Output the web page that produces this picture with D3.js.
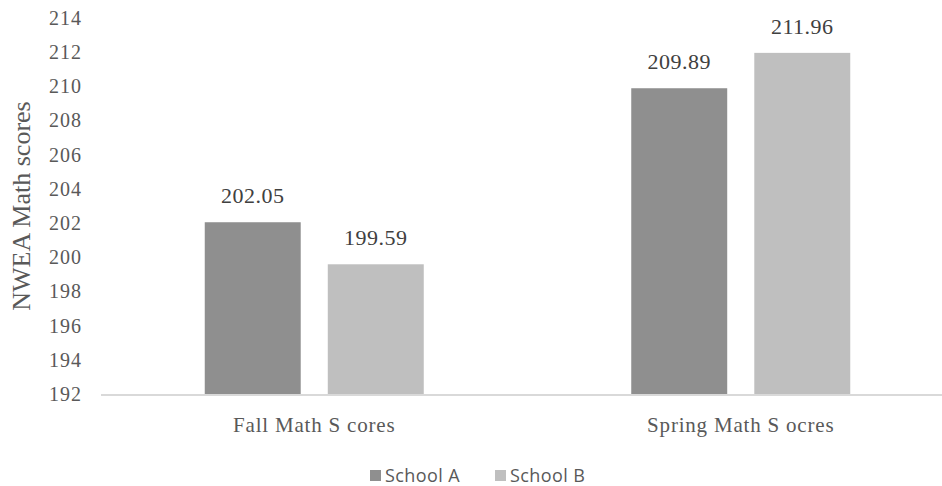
<!DOCTYPE html>
<html>
<head>
<meta charset="utf-8">
<script src="https://cdn.jsdelivr.net/npm/d3@7"></script>
<style>
  body { margin: 0; background: #fff; }
  svg { display: block; }
  .serif { font-family: 'Liberation Serif', 'Tinos', 'Times New Roman', 'DejaVu Serif', serif; }
</style>
</head>
<body>
<svg id="chart"></svg>
<script>
const categories = ['Fall Math S cores', 'Spring Math S ocres'];
const series = ['School A', 'School B'];
const schoolA = [202.05, 209.89];
const schoolB = [199.59, 211.96];
const yTicks = [192, 194, 196, 198, 200, 202, 204, 206, 208, 210, 212, 214];

const width = 942, height = 486;
const colors = { 'School A': '#8f8f8f', 'School B': '#bfbfbf' };

const svg = d3.select('#chart').attr('width', width).attr('height', height);

const x0 = d3.scaleBand()
  .domain(categories)
  .range([101, 954]);

const x1 = d3.scaleBand()
  .domain(series)
  .range([-109.5, 109.5])
  .paddingInner(0.22);

const y = d3.scaleLinear()
  .domain([192, 214])
  .range([394, 18]);

const rows = categories.map((c, i) => ({ cat: c, values: [
  { key: 'School A', value: schoolA[i] },
  { key: 'School B', value: schoolB[i] }
]}));

// y axis labels (no line)
const yAxis = svg.append('g')
  .attr('transform', 'translate(82,0)')
  .call(d3.axisLeft(y).tickValues(yTicks).tickSize(0).tickPadding(0));
yAxis.attr('font-family', null).attr('font-size', null);
yAxis.select('.domain').remove();
yAxis.selectAll('text')
  .attr('class', 'serif')
  .style('font-size', '20px')
  .style('letter-spacing', '1px')
  .attr('fill', '#595959');

// y title
svg.append('text')
  .attr('class', 'serif')
  .attr('transform', 'translate(30,206) rotate(-90)')
  .attr('text-anchor', 'middle')
  .style('font-size', '26px')
  .attr('fill', '#595959')
  .text('NWEA Math scores');

// bars
const groups = svg.selectAll('.cat')
  .data(rows)
  .enter()
  .append('g')
  .attr('class', 'cat')
  .attr('transform', d => `translate(${x0(d.cat) + x0.bandwidth() / 2},0)`);

groups.selectAll('rect')
  .data(d => d.values)
  .enter()
  .append('rect')
  .attr('x', d => x1(d.key))
  .attr('y', d => y(d.value))
  .attr('width', x1.bandwidth())
  .attr('height', d => y(192) - y(d.value))
  .attr('fill', d => colors[d.key]);

groups.selectAll('.val')
  .data(d => d.values)
  .enter()
  .append('text')
  .attr('class', 'val serif')
  .attr('x', d => x1(d.key) + x1.bandwidth() / 2)
  .attr('y', d => y(d.value) - 19)
  .attr('text-anchor', 'middle')
  .style('font-size', '22px')
  .style('letter-spacing', '0.5px')
  .attr('fill', '#404040')
  .text(d => d.value.toFixed(2));

// x axis
const xAxis = svg.append('g')
  .attr('transform', 'translate(0,395)')
  .call(d3.axisBottom(x0).tickSize(0).tickPadding(22));
xAxis.attr('font-family', null).attr('font-size', null);
xAxis.select('.domain')
  .attr('stroke', '#d9d9d9')
  .attr('stroke-width', 2)
  .attr('d', 'M101,0H942');
xAxis.selectAll('text')
  .attr('class', 'serif')
  .style('font-size', '21px')
  .style('letter-spacing', '0.8px')
  .attr('fill', '#595959');

// legend
const legendX = [370, 495];
const legend = svg.append('g').attr('class', 'legend');
legend.selectAll('rect')
  .data(series)
  .enter()
  .append('rect')
  .attr('x', (d, i) => legendX[i])
  .attr('y', 470)
  .attr('width', 11)
  .attr('height', 11)
  .attr('fill', d => colors[d]);
legend.selectAll('text')
  .data(series)
  .enter()
  .append('text')
  .attr('x', (d, i) => legendX[i] + 15)
  .attr('y', 482)
  .style('font-family', '"Open Sans", "Liberation Sans", sans-serif')
  .style('font-size', '18px')
  .style('letter-spacing', '0.4px')
  .attr('fill', '#595959')
  .text(d => d);
</script>
</body>
</html>
